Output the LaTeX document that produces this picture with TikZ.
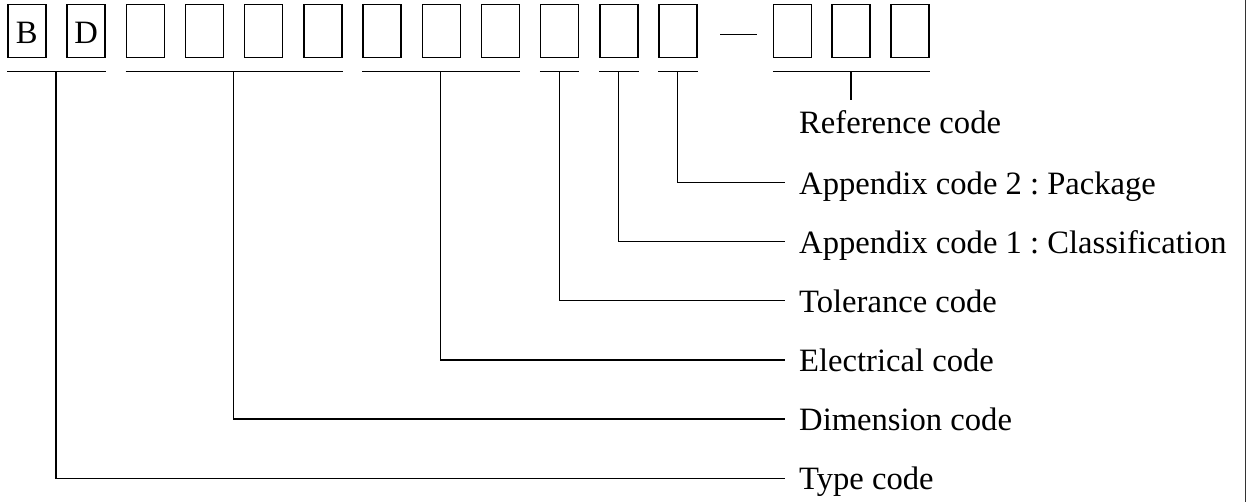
\documentclass[tikz,border=0pt]{standalone}
\usepackage{fontspec}
\setmainfont{Liberation Serif}
\frenchspacing
\begin{document}
\begin{tikzpicture}[x=1pt,y=-1pt,
  every node/.style={font=\fontsize{32.6}{40}\selectfont},
  digit/.style={draw,line width=1.5pt,minimum width=38pt,minimum height=52.6pt,inner sep=0pt,text height=26pt,text depth=0pt},
  lab/.style={anchor=west,inner sep=0pt,text height=23pt,text depth=0pt},
  conn/.style={line width=1.5pt}]
\useasboundingbox (0,0) rectangle (1246,502);
% boxes
\foreach \i/\x/\t in {1/26.85/B,2/86.05/D,3/145.25/,4/204.45/,5/263.65/,6/322.85/,7/382.05/,8/441.25/,9/500.45/,10/559.65/,11/618.85/,12/678.05/,13/792.5/,14/851.2/,15/909.9/}
  \node[digit] (b\i) at (\x,31) {\t};
% dash
\coordinate (d1) at (720,34.3);
\coordinate (d2) at (757.3,34.3);
\draw[conn] (d1) -- (d2);
% underlines
\draw[conn] (b1.south west |- 0,71.7) -- (b2.south east |- 0,71.7);
\draw[conn] (b3.south west |- 0,71.7) -- (b6.south east |- 0,71.7);
\draw[conn] (b7.south west |- 0,71.7) -- (b9.south east |- 0,71.7);
\draw[conn] (b10.south west |- 0,71.7) -- (b10.south east |- 0,71.7);
\draw[conn] (b11.south west |- 0,71.7) -- (b11.south east |- 0,71.7);
\draw[conn] (b12.south west |- 0,71.7) -- (b12.south east |- 0,71.7);
\draw[conn] (b13.south west |- 0,71.7) -- (b15.south east |- 0,71.7);
% underline midpoints
\coordinate (u1) at (56,71.7);
\coordinate (u2) at (233.5,71.7);
\coordinate (u3) at (440.5,71.7);
\coordinate (u4) at (559.65,71.7);
\coordinate (u5) at (618.3,71.7);
\coordinate (u6) at (677.5,71.7);
\coordinate (u7) at (851,71.7);
% labels
\node[lab,anchor=base west] (lref) at (799,133.3) {Reference code};
\node[lab] (lapp2) at (799,182.7) {Appendix code 2 : Package};
\node[lab] (lapp1) at (799,241.7) {Appendix code 1 : Classification};
\node[lab] (ltol) at (799,300.7) {Tolerance code};
\node[lab] (lele) at (799,360) {Electrical code};
\node[lab] (ldim) at (799,419) {Dimension code};
\node[lab] (ltyp) at (799,478.3) {Type code};
% connectors
\draw[conn] (u7) -- (u7 |- 0,100);
\draw[conn] (u6) |- ([xshift=-14pt]lapp2.west);
\draw[conn] (u5) |- ([xshift=-14pt]lapp1.west);
\draw[conn] (u4) |- ([xshift=-14pt]ltol.west);
\draw[conn] (u3) |- ([xshift=-14pt]lele.west);
\draw[conn] (u2) |- ([xshift=-14pt]ldim.west);
\draw[conn] (u1) |- ([xshift=-14pt]ltyp.west);
% right frame edge
\draw[line width=1pt,black!80] (1245.5,0) -- (1245.5,502);
\end{tikzpicture}
\end{document}
